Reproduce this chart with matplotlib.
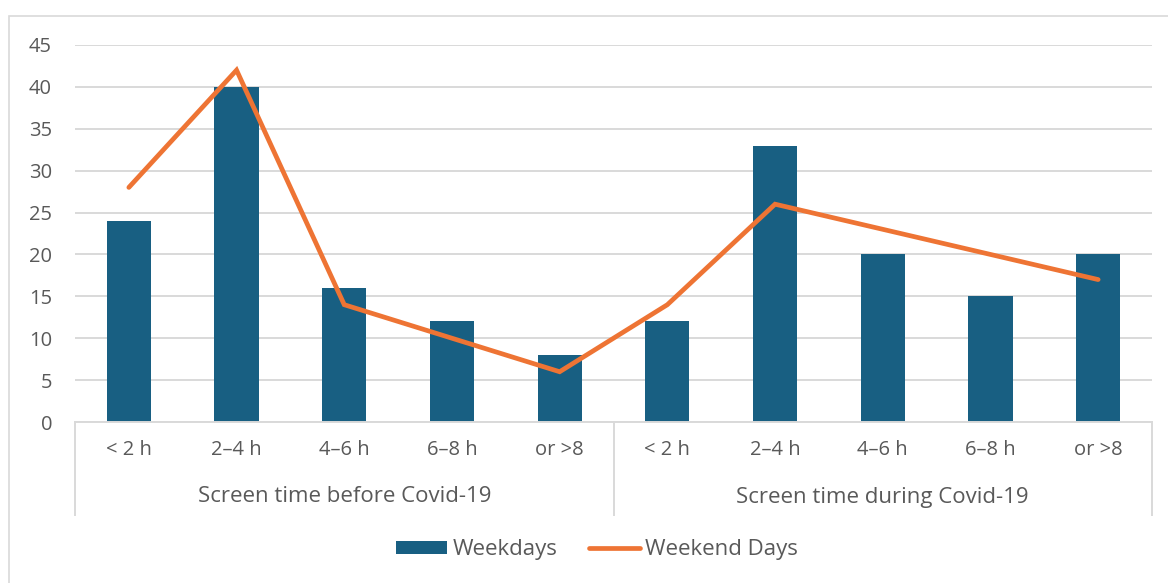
import matplotlib
matplotlib.use("Agg")
import matplotlib.pyplot as plt
from matplotlib.patches import Rectangle, Patch
from matplotlib.lines import Line2D
import numpy as np

plt.rcParams['font.family'] = ['Open Sans', 'DejaVu Sans']

# Data
categories = ["< 2 h", "2\u20134 h", "4\u20136 h", "6\u20138 h", "or >8",
              "< 2 h", "2\u20134 h", "4\u20136 h", "6\u20138 h", "or >8"]
groups = ["Screen time before Covid-19", "Screen time during Covid-19"]
weekdays = [24, 40, 16, 12, 8, 12, 33, 20, 15, 20]
weekend_days = [28, 42, 14, 10, 6, 14, 26, 23, 20, 17]
y_ticks = [0, 5, 10, 15, 20, 25, 30, 35, 40, 45]

BAR_COLOR = "#185F82"
LINE_COLOR = "#EE7434"
TEXT_COLOR = "#595959"
GRID_COLOR = "#D9D9D9"

W, H = 1168, 583
fig = plt.figure(figsize=(W / 100, H / 100), dpi=100)

# outer chart border
fig.patches.append(Rectangle((9 / W, 1 - 600 / H), 1180 / W, (600 - 16) / H,
                             transform=fig.transFigure, fill=False,
                             edgecolor=GRID_COLOR, linewidth=1.2))

left, right, top, bottom = 75, 1152, 45, 422
ax = fig.add_axes([left / W, 1 - bottom / H, (right - left) / W, (bottom - top) / H])

x = np.arange(len(categories))
ax.bar(x, weekdays, width=0.41, color=BAR_COLOR, zorder=2)
ax.plot(x, weekend_days, color=LINE_COLOR, linewidth=3.4,
        solid_capstyle="round", solid_joinstyle="miter", zorder=3)

ax.set_xlim(-0.5, len(categories) - 0.5)
ax.set_ylim(0, 45)
ax.set_yticks(y_ticks)
ax.yaxis.grid(True, color=GRID_COLOR, linewidth=1.4, zorder=0)
ax.set_axisbelow(True)
for s in ["top", "right", "left"]:
    ax.spines[s].set_visible(False)
ax.spines["bottom"].set_color(GRID_COLOR)
ax.spines["bottom"].set_linewidth(1.4)
ax.tick_params(axis="y", length=0, pad=16.5, labelsize=14.5, labelcolor=TEXT_COLOR)
ax.tick_params(axis="x", length=0, pad=13, labelsize=14.5, labelcolor=TEXT_COLOR)
ax.set_xticks(x)
ax.set_xticklabels(categories)

# group separators and group labels
span = bottom - top
sep_bottom = -(515 - bottom) / span
trans = ax.get_xaxis_transform()
for xs in [-0.5, 4.5, 9.5]:
    ax.plot([xs, xs], [0, sep_bottom], transform=trans, color=GRID_COLOR,
            linewidth=1.4, clip_on=False)
for gi, g in enumerate(groups):
    ax.text(gi * 5 + 2, -(497 - bottom) / span, g, transform=trans,
            ha="center", va="center", fontsize=16, color=TEXT_COLOR)

handles = [Patch(facecolor=BAR_COLOR, edgecolor="none"),
           Line2D([0], [0], color=LINE_COLOR, linewidth=3.4, solid_capstyle="round")]
fig.legend(handles, ["Weekdays", "Weekend Days"], loc="center",
           bbox_to_anchor=(597 / W, 1 - 550 / H), ncol=2, frameon=False,
           fontsize=16, labelcolor=TEXT_COLOR, handlelength=2.3,
           handleheight=0.55, handletextpad=0.25, columnspacing=1.4)

fig.savefig("out.png", dpi=100)
